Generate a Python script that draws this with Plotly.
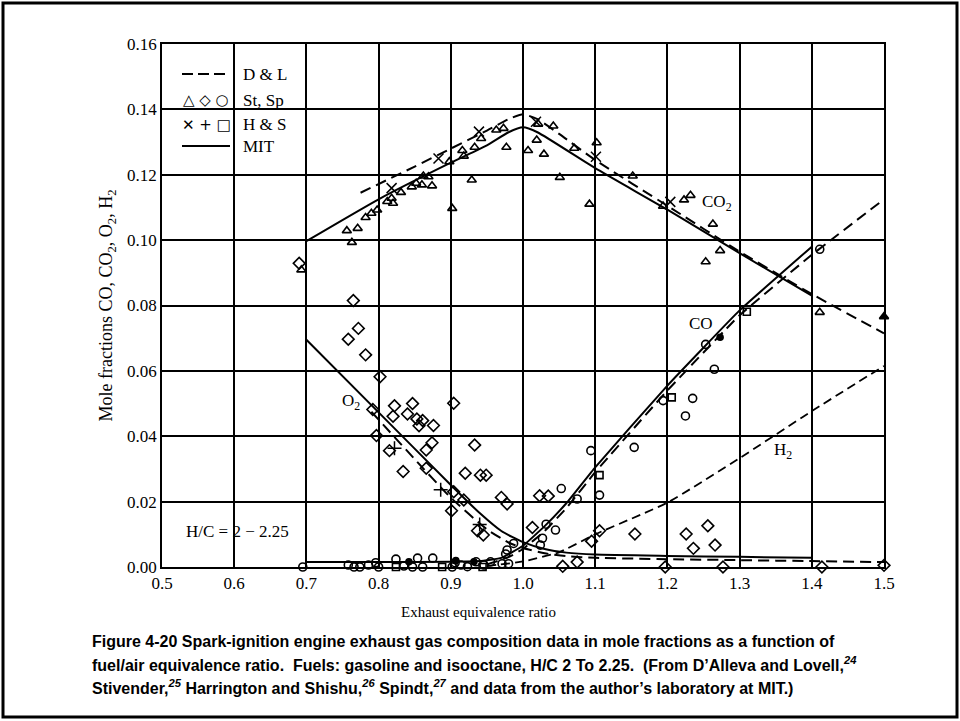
import plotly.graph_objects as go

# ---------------- data ----------------
# MIT (solid lines)
mit_co2_x = [0.70, 0.80, 0.90, 0.95, 0.98, 1.00, 1.02, 1.10, 1.20, 1.30, 1.40]
mit_co2_y = [0.0997, 0.1125, 0.1237, 0.1290, 0.1330, 0.1345, 0.1330, 0.1220, 0.1093, 0.0960, 0.0830]
mit_o2_x = [0.70, 0.80, 0.90, 0.94, 0.97, 1.00, 1.03, 1.06, 1.10, 1.20, 1.30, 1.40]
mit_o2_y = [0.0695, 0.0473, 0.0251, 0.0165, 0.0110, 0.0076, 0.0055, 0.0044, 0.0038, 0.0034, 0.0031, 0.0028]
mit_co_x = [0.70, 0.80, 0.90, 0.94, 0.97, 1.00, 1.03, 1.06, 1.10, 1.20, 1.30, 1.40]
mit_co_y = [0.0015, 0.0015, 0.0016, 0.0018, 0.0028, 0.0065, 0.0125, 0.0195, 0.0305, 0.0555, 0.0785, 0.0980]

# D & L (dashed lines)
dl_co2_x = [0.775, 0.85, 0.90, 0.95, 0.98, 1.00, 1.02, 1.05, 1.10, 1.20, 1.30, 1.40, 1.50]
dl_co2_y = [0.1145, 0.1225, 0.1280, 0.1335, 0.1370, 0.1385, 0.1370, 0.1325, 0.1245, 0.1105, 0.0965, 0.0835, 0.0715]
dl_o2_x = [0.79, 0.85, 0.90, 0.95, 0.98, 1.00, 1.03, 1.06, 1.10, 1.20, 1.30, 1.40, 1.50]
dl_o2_y = [0.0475, 0.0330, 0.0212, 0.0115, 0.0075, 0.0058, 0.0042, 0.0033, 0.0028, 0.0024, 0.0021, 0.0018, 0.0015]
dl_co_x = [0.95, 0.98, 1.00, 1.03, 1.06, 1.10, 1.20, 1.30, 1.40, 1.50]
dl_co_y = [0.0008, 0.0030, 0.0055, 0.0110, 0.0180, 0.0290, 0.0540, 0.0770, 0.0955, 0.1125]
dl_h2_x = [0.95, 1.00, 1.05, 1.10, 1.20, 1.30, 1.40, 1.50]
dl_h2_y = [0.0003, 0.0017, 0.0045, 0.0100, 0.0197, 0.0333, 0.0477, 0.0615]

# St, Sp data (triangle = CO2, diamond = O2, circle = CO)
st_co2_x = [0.693, 0.756, 0.763, 0.771, 0.782, 0.790, 0.798, 0.812, 0.818, 0.820, 0.831, 0.846,
            0.852, 0.860, 0.862, 0.869, 0.874, 0.898, 0.902, 0.916, 0.918, 0.929, 0.933, 0.942,
            0.963, 0.973, 0.977, 1.007, 1.019, 1.021, 1.029, 1.042, 1.051, 1.071, 1.092, 1.102,
            1.152, 1.194, 1.223, 1.232, 1.253, 1.263, 1.273, 1.411]
st_co2_y = [0.0909, 0.1029, 0.0993, 0.1036, 0.1069, 0.1082, 0.1092, 0.1118, 0.1128, 0.1113, 0.1146, 0.1163,
            0.1174, 0.1169, 0.1196, 0.1194, 0.1166, 0.1240, 0.1097, 0.1274, 0.1257, 0.1184, 0.1284, 0.1311,
            0.1337, 0.1342, 0.1284, 0.1274, 0.1306, 0.1355, 0.1263, 0.1349, 0.1192, 0.1281, 0.1110, 0.1298,
            0.1196, 0.1104, 0.1123, 0.1137, 0.0934, 0.1049, 0.0968, 0.0779]
st_co2_filled_x = [1.500]
st_co2_filled_y = [0.0766]

st_o2_x = [0.690, 0.765, 0.772, 0.758, 0.782, 0.802, 0.792, 0.822, 0.820, 0.847, 0.840, 0.853,
           0.861, 0.856, 0.876, 0.797, 0.874, 0.866, 0.815, 0.834, 0.866, 0.904, 0.933, 0.920,
           0.941, 0.949, 0.901, 0.904, 0.918, 0.970, 0.978, 0.937, 0.945, 1.013, 1.023, 1.035,
           1.055, 1.075, 1.095, 1.106, 1.155, 1.197, 1.226, 1.236, 1.256, 1.266, 1.277, 1.414, 1.500]
st_o2_y = [0.0929, 0.0815, 0.0730, 0.0697, 0.0649, 0.0582, 0.0482, 0.0493, 0.0461, 0.0500, 0.0468, 0.0453,
           0.0448, 0.0432, 0.0433, 0.0402, 0.0380, 0.0358, 0.0356, 0.0292, 0.0302, 0.0501, 0.0373, 0.0287,
           0.0281, 0.0281, 0.0172, 0.0230, 0.0205, 0.0213, 0.0193, 0.0111, 0.0098, 0.0121, 0.0218, 0.0217,
           0.0002, 0.0015, 0.0079, 0.0111, 0.0101, 0.0000, 0.0101, 0.0057, 0.0126, 0.0067, 0.0000, 0.0000, 0.0005]

st_co_x = [0.695, 0.758, 0.766, 0.774, 0.786, 0.796, 0.800, 0.824, 0.835, 0.847, 0.854, 0.861,
           0.875, 0.902, 0.906, 0.914, 0.923, 0.935, 0.946, 0.955, 0.971, 0.980, 0.976, 0.978,
           0.987, 1.024, 1.027, 1.032, 1.045, 1.053, 1.075, 1.094, 1.106, 1.154, 1.194, 1.225,
           1.235, 1.253, 1.265, 1.411, 1.503]
st_co_y = [0.0000, 0.0006, 0.0000, 0.0000, 0.0006, 0.0013, 0.0000, 0.0024, 0.0003, 0.0000, 0.0027, 0.0000,
           0.0027, 0.0000, 0.0013, 0.0006, 0.0001, 0.0016, 0.0006, 0.0016, 0.0010, 0.0010, 0.0040, 0.0052,
           0.0072, 0.0067, 0.0088, 0.0131, 0.0113, 0.0240, 0.0208, 0.0356, 0.0220, 0.0366, 0.0509, 0.0462,
           0.0516, 0.0681, 0.0605, 0.0972, 0.1084]
st_co_filled_x = [0.842, 0.907, 0.932, 1.273]
st_co_filled_y = [0.0016, 0.0020, 0.0016, 0.0703]

# H & S data (x = CO2, + = O2, square = CO)
hs_co2_x = [0.818, 0.883, 0.939, 1.018, 1.101, 1.204]
hs_co2_y = [0.1159, 0.1250, 0.1332, 0.1362, 0.1255, 0.1117]
hs_o2_x = [0.822, 0.886, 0.940]
hs_o2_y = [0.0363, 0.0236, 0.0130]
hs_co_x = [0.824, 0.888, 0.944, 1.106, 1.206, 1.310]
hs_co_y = [0.0000, 0.0000, 0.0000, 0.0281, 0.0519, 0.0781]

x_ticks = [0.5, 0.6, 0.7, 0.8, 0.9, 1.0, 1.1, 1.2, 1.3, 1.4, 1.5]
y_ticks = [0.00, 0.02, 0.04, 0.06, 0.08, 0.10, 0.12, 0.14, 0.16]

SERIF = "Liberation Serif, Times New Roman, serif"
INK = "#000000"

fig = go.Figure()


def line(x, y, dash, width=2.0, smoothing=0.5):
    fig.add_trace(go.Scatter(x=x, y=y, mode="lines", showlegend=False, hoverinfo="skip",
                             line=dict(color=INK, width=width, dash=dash, shape="spline",
                                       smoothing=smoothing)))


def pts(x, y, symbol, size=8, lw=1.6, color=INK):
    fig.add_trace(go.Scatter(x=x, y=y, mode="markers", showlegend=False, cliponaxis=False,
                             marker=dict(symbol=symbol, size=size, color=color,
                                         line=dict(color=INK, width=lw))))


LONG = "11px,6px"
SHORT = "9px,5px"
line(mit_co2_x, mit_co2_y, "solid")
line(mit_o2_x, mit_o2_y, "solid")
line(mit_co_x, mit_co_y, "solid", smoothing=0.3)
line(dl_co2_x, dl_co2_y, LONG)
line(dl_o2_x, dl_o2_y, LONG)
line(dl_co_x, dl_co_y, LONG, smoothing=0.3)
line(dl_h2_x, dl_h2_y, SHORT, 1.8)

pts(st_co2_x, st_co2_y, "triangle-up-open", 8)
pts(st_co2_filled_x, st_co2_filled_y, "triangle-up", 8)
pts(st_o2_x, st_o2_y, "diamond-open", 9)
pts(st_co_x, st_co_y, "circle-open", 8)
pts(st_co_filled_x, st_co_filled_y, "circle", 6)
pts(hs_co2_x, hs_co2_y, "x-thin-open", 10, 1.5)
pts(hs_o2_x, hs_o2_y, "cross-thin-open", 10, 1.5)
pts(hs_co_x, hs_co_y, "square-open", 7)

# ---------------- layout ----------------
L, R, T, B = 162, 76, 44, 154
W, H = 960, 721
pw, ph = W - L - R, H - T - B


def px2paper(px, py):
    return (px - L) / pw, (H - B - py) / ph


fig.update_xaxes(range=[0.5, 1.5], tickvals=x_ticks, ticktext=[f"{v:.1f}" for v in x_ticks],
                 showgrid=True, gridcolor=INK, gridwidth=1.6, zeroline=False,
                 showline=True, linecolor=INK, linewidth=1.6, mirror=True, ticks="",
                 tickfont=dict(family=SERIF, size=17, color=INK))
fig.update_yaxes(range=[0, 0.16], tickvals=y_ticks, ticktext=[f"{v:.2f}" for v in y_ticks],
                 showgrid=True, gridcolor=INK, gridwidth=1.6, zeroline=False,
                 showline=True, linecolor=INK, linewidth=1.6, mirror=True, ticks="",
                 tickfont=dict(family=SERIF, size=17, color=INK),
                 title=dict(text="Mole fractions CO, CO<sub>2</sub>, O<sub>2</sub>, H<sub>2</sub>",
                            font=dict(family=SERIF, size=18, color=INK), standoff=10))

shapes = []
# outer frame
x0, y0 = px2paper(3, 3)
x1, y1 = px2paper(957, 717)
shapes.append(dict(type="rect", xref="paper", yref="paper", x0=x0, y0=y1, x1=x1, y1=y0,
                   line=dict(color=INK, width=3), layer="below"))
# legend masks over the 0.14 gridline (leave the 0.6 vertical visible)
for a, b in [(164, 231), (237, 292)]:
    mx0, my0 = px2paper(a, 108)
    mx1, my1 = px2paper(b, 116)
    shapes.append(dict(type="rect", xref="paper", yref="paper", x0=mx0, y0=my1, x1=mx1, y1=my0,
                       fillcolor="white", line=dict(width=0), layer="below"))
# legend line samples
lx0, _ = px2paper(182, 0)
lx1, _ = px2paper(230, 0)
_, ly_dl = px2paper(0, 74)
_, ly_mit = px2paper(0, 146)
shapes.append(dict(type="line", xref="paper", yref="paper", x0=lx0, x1=lx1, y0=ly_dl, y1=ly_dl,
                   line=dict(color=INK, width=2, dash="11px,5px")))
shapes.append(dict(type="line", xref="paper", yref="paper", x0=lx0, x1=lx1, y0=ly_mit, y1=ly_mit,
                   line=dict(color=INK, width=2)))

ann = []
tx, _ = px2paper(241, 0)
for label, py in [("D & L", 74), ("St, Sp", 100), ("H & S", 125), ("MIT", 146)]:
    _, ty = px2paper(0, py)
    ann.append(dict(x=tx, y=ty, xref="paper", yref="paper", text=label, showarrow=False,
                    xanchor="left", yanchor="middle", font=dict(family=SERIF, size=17, color=INK)))
sx, _ = px2paper(206, 0)
for sym, py in [("\u25b3 \u25c7 \u25cb", 100), ("\u2715 + \u25a1", 125)]:
    _, sy = px2paper(0, py)
    ann.append(dict(x=sx, y=sy, xref="paper", yref="paper", text=sym, showarrow=False,
                    xanchor="center", yanchor="middle",
                    font=dict(family="DejaVu Sans", size=15, color=INK)))

# curve labels
for text, x, y in [("CO<sub>2</sub>", 1.268, 0.1115), ("CO", 1.246, 0.0745),
                   ("H<sub>2</sub>", 1.360, 0.0355), ("O<sub>2</sub>", 0.762, 0.0505),
                   ("H/C = 2 \u2212 2.25", 0.604, 0.0110)]:
    ann.append(dict(x=x, y=y, xref="x", yref="y", text=text, showarrow=False,
                    xanchor="center", yanchor="middle", font=dict(family=SERIF, size=17, color=INK)))

# x-axis title
ax, ay = px2paper(478, 612)
ann.append(dict(x=ax, y=ay, xref="paper", yref="paper", text="Exhaust equivalence ratio",
                showarrow=False, xanchor="center", yanchor="middle",
                font=dict(family=SERIF, size=15, color=INK)))

# caption
CAP = "Liberation Sans, Arial, sans-serif"
caption = [
    "Figure 4-20 Spark-ignition engine exhaust gas composition data in mole fractions as a function of",
    "fuel/air equivalence ratio.  Fuels: gasoline and isooctane, H/C 2 To 2.25.  (From D\u2019Alleva and Lovell,<sup><i>24</i></sup>",
    "Stivender,<sup><i>25</i></sup> Harrington and Shishu,<sup><i>26</i></sup> Spindt,<sup><i>27</i></sup> and data from the author\u2019s laboratory at MIT.)",
]
cx, _ = px2paper(90, 0)
for i, t in enumerate(caption):
    _, cy = px2paper(0, 641 + 23 * i)
    ann.append(dict(x=cx, y=cy, xref="paper", yref="paper", text="<b>" + t + "</b>", showarrow=False,
                    xanchor="left", yanchor="middle", font=dict(family=CAP, size=16, color="#000000")))

fig.update_layout(width=W, height=H, margin=dict(l=L, r=R, t=T, b=B, autoexpand=False),
                  paper_bgcolor="white", plot_bgcolor="white", showlegend=False,
                  shapes=shapes, annotations=ann)

fig.write_html("out.html")
